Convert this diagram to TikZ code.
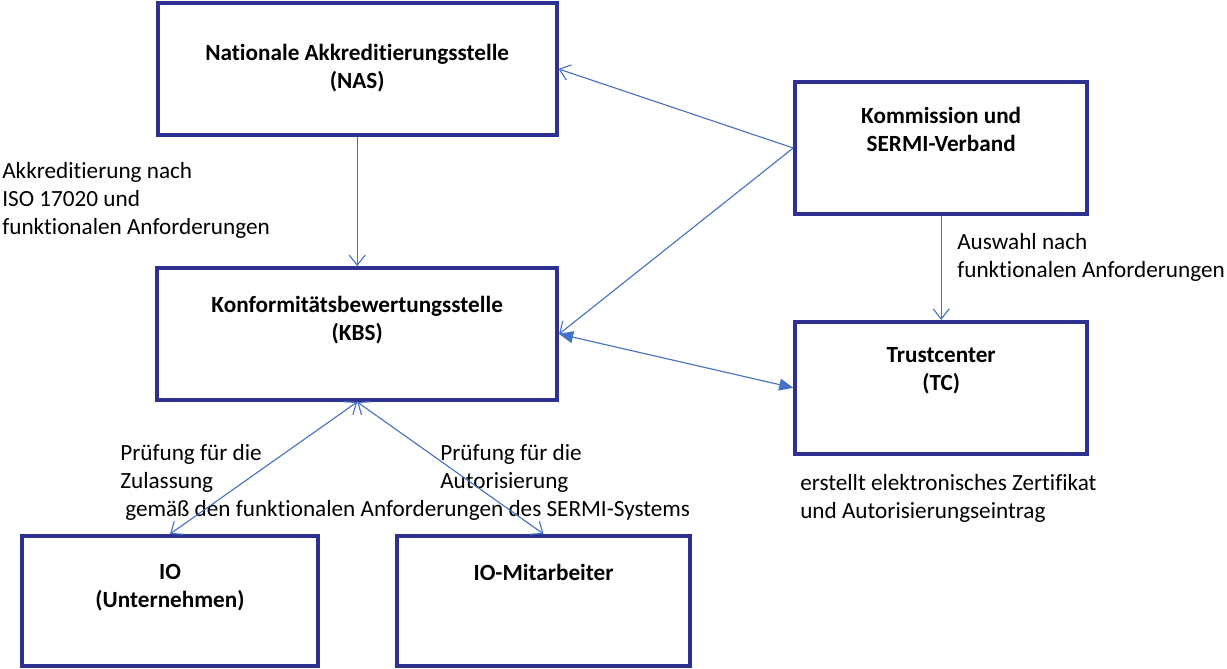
\documentclass[tikz,border=0pt]{standalone}
\usepackage{fontspec}
\setmainfont{Carlito}[Ligatures=NoCommon]
\usetikzlibrary{arrows.meta,positioning}
\definecolor{boxblue}{RGB}{46,49,146}
\definecolor{linkblue}{RGB}{68,114,196}
\tikzset{
  box/.style={draw=boxblue, line width=2.8pt, minimum height=3.3cm, inner sep=0pt},
  boxtext/.style={font=\fontsize{16.5}{19.9}\selectfont\bfseries, align=center, inner sep=0pt},
  note/.style={font=\fontsize{16.5}{19.9}\selectfont, align=left, inner sep=0pt, anchor=north west},
  link/.style={draw=linkblue, line width=0.8pt, -{Straight Barb[length=2.5mm,width=4mm]}},
  linkboth/.style={link, {Straight Barb[length=2.5mm,width=4mm]}-{Straight Barb[length=2.5mm,width=4mm]}},
  linkfill/.style={draw=linkblue, line width=0.8pt, {Triangle[length=3.5mm,width=3mm]}-{Triangle[length=3.5mm,width=3mm]}}
}
\begin{document}
\begin{tikzpicture}
  \useasboundingbox (0,0) rectangle (30.675,16.725);
  % boxes
  \node[box, minimum width=9.97cm] (nas) at (8.93,15.0) {};
  \node[box, minimum width=10cm] (kbs) at (8.93,8.375) {};
  \node[box, minimum width=7.3cm] (kom) at (23.53,13.025) {};
  \node[box, minimum width=7.3cm] (tc) at (23.53,7.03) {};
  \node[box, minimum width=7.4cm, minimum height=3.25cm] (io) at (4.25,1.7) {};
  \node[box, minimum width=7.33cm, minimum height=3.25cm] (iom) at (13.59,1.7) {};
  % box texts
  \node[boxtext, below=1.07cm of nas.north] (nastext) {Nationale Akkreditierungsstelle\\(NAS)};
  \node[boxtext, below=0.75cm of kbs.north] (kbstext) {Konformitätsbewertungsstelle\\(KBS)};
  \node[boxtext, below=0.68cm of kom.north] (komtext) {Kommission und\\SERMI-Verband};
  \node[boxtext, below=0.68cm of tc.north] (tctext) {Trustcenter\\(TC)};
  \node[boxtext, below=0.75cm of io.north] (iotext) {IO\\(Unternehmen)};
  \node[boxtext, below=0.75cm of iom.north] (iomtext) {IO-Mitarbeiter};
  % notes
  \node[note] (akk) at (0.05,12.68) {Akkreditierung nach\\ISO 17020 und\\funktionalen Anforderungen};
  \node[note] (ausw) at (23.925,10.9) {Auswahl nach\\funktionalen Anforderungen};
  \node[note] (zert) at (20.0,4.875) {erstellt elektronisches Zertifikat\\und Autorisierungseintrag};
  \node[note] (zul) at (3.0,5.625) {Prüfung für die\\Zulassung};
  \node[note] (aut) at (11.0,5.625) {Prüfung für die\\Autorisierung};
  \node[note] (gem) at (3.125,4.225) {gemäß den funktionalen Anforderungen des SERMI-Systems};
  % connectors
  \draw[link] (nas) -- (kbs);
  \draw[link] (kom.west) -- (nas.east);
  \draw[link] (kom.west) -- (kbs.east);
  \draw[link] (kom) -- (tc);
  \draw[linkfill] (kbs.east) -- (tc.west);
  \draw[linkboth] (kbs.south) -- (io.north);
  \draw[linkboth] (kbs.south) -- (iom.north);
\end{tikzpicture}
\end{document}
